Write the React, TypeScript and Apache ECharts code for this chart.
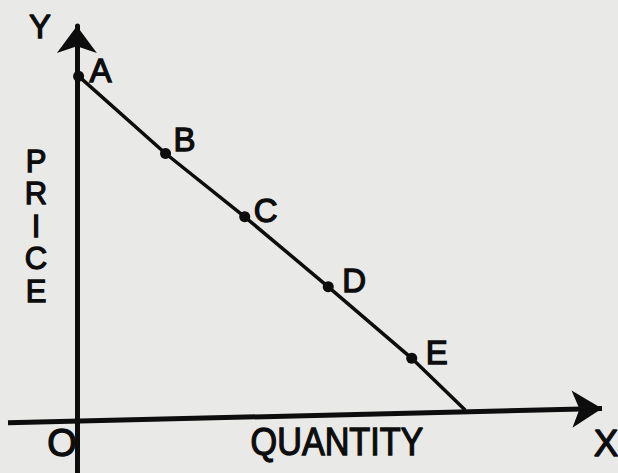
import React, { useEffect, useRef } from "react";
import * as echarts from "echarts";

// Points on the demand line (quantity, price)
const pointNames = ["A", "B", "C", "D", "E", ""];
const quantityValues = [0.2, 10.3, 19.5, 29.2, 38.9, 45.1];
const priceValues = [87.1, 67.2, 50.9, 32.9, 14.5, 1.2];

// Axis titles
const yTitle = "Y";
const xTitle = "X";
const originTitle = "O";
const quantityTitle = "QUANTITY";
const priceTitle = "PRICE";

const INK = "#0d0d0d";
const FONT = "'Liberation Sans', Arial, Helvetica, sans-serif";
const WEIGHT_STROKE = 1.3;

const labelOffsets: number[][] = [
  [22, -6],
  [19, -14],
  [21, -6],
  [26, -6],
  [25, -6],
  [0, 0],
];

export default function App() {
  const ref = useRef<HTMLDivElement>(null);

  useEffect(() => {
    if (!ref.current) return;
    const chart = echarts.init(ref.current, null, { renderer: "svg" });

    const data = quantityValues.map((q, i) => {
      const hasName = pointNames[i] !== "";
      return {
        name: pointNames[i],
        value: [q, priceValues[i]],
        symbol: hasName ? "circle" : "none",
        label: {
          show: hasName,
          offset: labelOffsets[i],
        },
      };
    });

    const txt = (text: string, x: number, y: number, size: number, extra: any = {}) => ({
      type: "text",
      x,
      y,
      silent: true,
      ...extra,
      style: {
        text,
        x: 0,
        y: 0,
        fill: INK,
        stroke: INK,
        lineWidth: WEIGHT_STROKE,
        font: `${size}px ${FONT}`,
        align: "center",
        verticalAlign: "middle",
        ...(extra.style || {}),
      },
    });

    const option: any = {
      animation: false,
      backgroundColor: "#e9e9e8",
      grid: { left: 8, right: 16, top: 26, bottom: 0, containLabel: false, outerBoundsMode: "none" },
      xAxis: {
        type: "value",
        min: -8,
        max: 61,
        axisLine: { show: false, onZero: true },
        axisTick: { show: false },
        axisLabel: { show: false },
        splitLine: { show: false },
      },
      yAxis: {
        type: "value",
        min: -15,
        max: 100,
        axisLine: {
          show: true,
          onZero: true,
          symbol: ["none", "arrow"],
          symbolSize: [30, 27],
          lineStyle: { color: INK, width: 5 },
        },
        axisTick: { show: false },
        axisLabel: { show: false },
        splitLine: { show: false },
      },
      series: [
        {
          type: "line",
          data,
          symbolSize: 11,
          itemStyle: { color: INK },
          lineStyle: { color: INK, width: 3.5 },
          label: {
            show: true,
            position: "inside",
            formatter: "{b}",
            color: INK,
            fontSize: 33,
            fontFamily: FONT,
            textBorderColor: INK,
            textBorderWidth: WEIGHT_STROKE,
          },
          z: 3,
          markLine: {
            silent: true,
            animation: false,
            symbol: ["none", "arrow"],
            symbolSize: [28, 30],
            label: { show: false },
            emphasis: { disabled: true },
            lineStyle: { color: INK, width: 5, type: "solid" },
            data: [
              [
                { coord: [-8, -2.1] },
                { coord: [61, 1.6] },
              ],
            ],
          },
        },
      ],
      graphic: [
        txt(yTitle, 40, 26, 33),
        {
          type: "text",
          x: 36,
          y: 226,
          silent: true,
          style: {
            text: priceTitle.split("").join("\n"),
            x: 0,
            y: 0,
            fill: INK,
            stroke: INK,
            lineWidth: WEIGHT_STROKE,
            font: `31px ${FONT}`,
            lineHeight: 32.5,
            align: "center",
            verticalAlign: "middle",
          },
        },
        txt(originTitle, 62, 443, 38),
        txt(quantityTitle, 337, 442, 38, { scaleX: 0.9 }),
        txt(xTitle, 606, 443, 37),
      ],
    };

    chart.setOption(option);
    return () => chart.dispose();
  }, []);

  return (
    <div
      ref={ref}
      style={{ position: "fixed", left: 0, top: 0, width: 618, height: 473 }}
    />
  );
}
